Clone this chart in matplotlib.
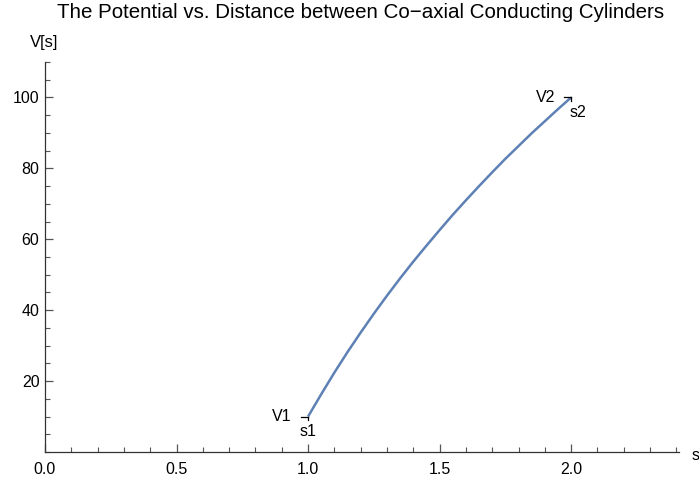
import matplotlib
matplotlib.use("Agg")
import matplotlib.pyplot as plt
from matplotlib.ticker import MultipleLocator

# values
s_vals = [1.0, 1.05, 1.1, 1.15, 1.2, 1.25, 1.3, 1.35, 1.4, 1.45, 1.5,
          1.55, 1.6, 1.65, 1.7, 1.75, 1.8, 1.85, 1.9, 1.95, 2.0]
v_vals = [10.0, 16.3, 22.4, 28.2, 33.7, 39.0, 44.1, 49.0, 53.7, 58.2, 62.6,
          66.9, 71.0, 75.0, 78.9, 82.7, 86.3, 89.9, 93.3, 96.7, 100.0]
x_ticks = [0.0, 0.5, 1.0, 1.5, 2.0]
y_ticks = [20, 40, 60, 80, 100]

plt.rcParams['font.family'] = ['Liberation Sans', 'DejaVu Sans']
fs = 11.5

fig = plt.figure(figsize=(6.99, 4.8), dpi=100)
ax = fig.add_axes([45 / 699, 1 - 452 / 480, 634 / 699, 390 / 480])

ax.plot(s_vals, v_vals, color="#5E81B5", lw=1.8, solid_capstyle="butt",
        solid_joinstyle="round")

ax.set_xlim(0, 2.41)
ax.set_ylim(0, 110)

for sp in ["top", "right"]:
    ax.spines[sp].set_visible(False)
for sp in ["left", "bottom"]:
    ax.spines[sp].set_color("#333333")
    ax.spines[sp].set_linewidth(0.9)

ax.set_xticks(x_ticks)
ax.set_xticklabels([f"{t:.1f}" for t in x_ticks])
ax.set_yticks(y_ticks)
ax.xaxis.set_minor_locator(MultipleLocator(0.1))
ax.yaxis.set_minor_locator(MultipleLocator(5))
ax.tick_params(which="major", direction="in", length=6, width=0.9, color="#555555",
               labelsize=fs)
ax.tick_params(axis="x", which="major", pad=7)
ax.tick_params(axis="y", which="major", pad=4)
ax.tick_params(which="minor", direction="in", length=3.5, width=0.8, color="#555555")

# endpoint markers and labels
for s0, v0, lab_v, lab_s, dx in [(s_vals[0], v_vals[0], "V1", "s1", 0.0),
                                  (s_vals[-1], v_vals[-1], "V2", "s2", 0.025)]:
    ax.plot([s0 - 0.027, s0], [v0, v0], color="black", lw=0.9)
    ax.plot([s0, s0], [v0, v0 - 1.0], color="black", lw=0.9)
    ax.text(s0 - 0.062, v0, lab_v, ha="right", va="center", fontsize=fs)
    ax.text(s0 + dx, v0 - 2.0, lab_s, ha="center", va="top", fontsize=fs)

fig.text(361 / 699, 1 - 13 / 480, "The Potential vs. Distance between Co\u2212axial Conducting Cylinders",
         ha="center", va="center", fontsize=14.8)
fig.text(44 / 699, 1 - 42 / 480, "V[s]", ha="center", va="center", fontsize=12)
fig.text(692 / 699, 1 - 455 / 480, "s", ha="left", va="center", fontsize=fs)

fig.savefig("out.png", dpi=100)
